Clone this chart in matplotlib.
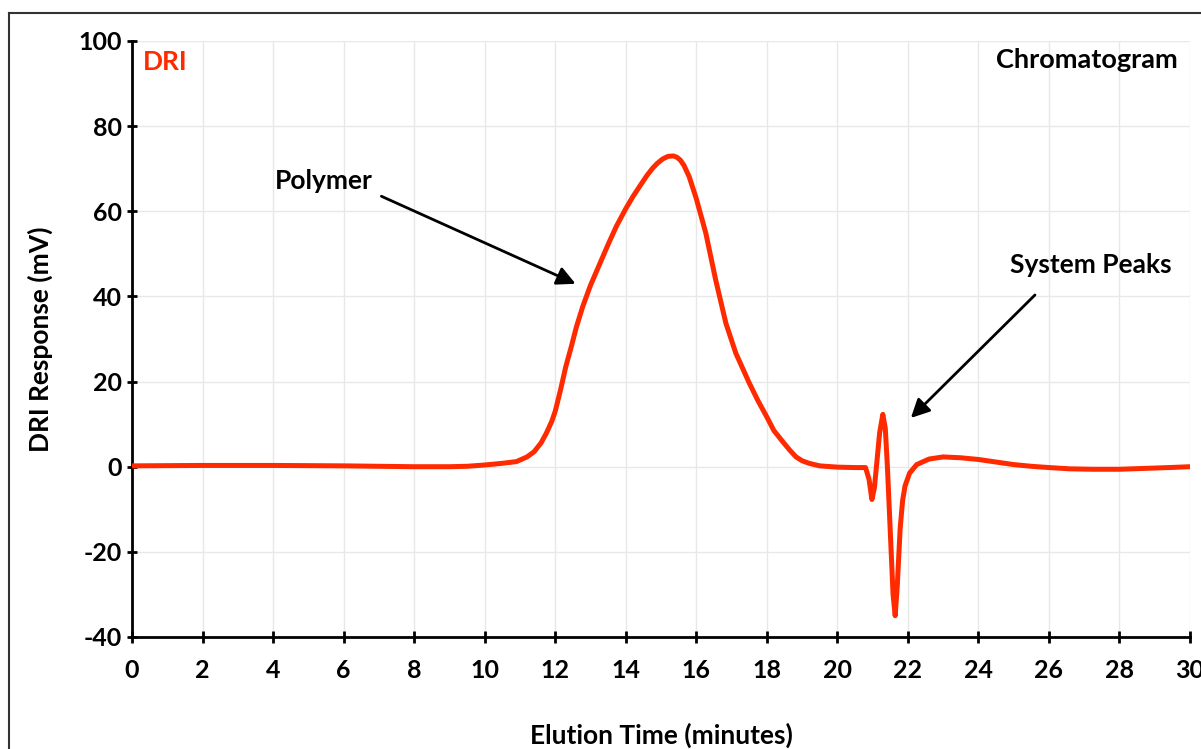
import matplotlib.pyplot as plt
from matplotlib.lines import Line2D

# elution time (minutes) and DRI response (mV)
time_min = [0, 1, 2, 3, 4, 5, 6, 7, 8, 9, 9.5, 10, 10.5, 10.9, 11.2, 11.4,
            11.6, 11.75, 11.9, 12.0, 12.15, 12.3, 12.45, 12.6, 12.78, 13.0,
            13.25, 13.5, 13.73, 14.0, 14.2, 14.39, 14.6, 14.77, 14.9, 15.05,
            15.2, 15.35, 15.45, 15.55, 15.65, 15.8, 16.0, 16.27, 16.55, 16.84,
            17.12, 17.5, 17.75, 18.0, 18.2, 18.45, 18.65, 18.83, 19.0, 19.2,
            19.5, 20.0, 20.5, 20.8, 20.9, 20.98, 21.05, 21.12, 21.2, 21.29,
            21.36, 21.42, 21.5, 21.58, 21.64, 21.7, 21.78, 21.85, 21.92, 22.05,
            22.25, 22.6, 23.0, 23.5, 24.0, 24.5, 25.0, 25.5, 26.0, 26.6, 27.25,
            28.0, 28.7, 29.4, 30.0]
dri_mv = [0.2, 0.25, 0.3, 0.3, 0.3, 0.25, 0.2, 0.1, 0.0, 0.0, 0.1, 0.4, 0.8,
          1.2, 2.3, 3.5, 5.6, 7.9, 10.6, 13.0, 18.0, 23.5, 28.0, 32.8, 37.6,
          42.6, 47.4, 52.2, 56.4, 60.6, 63.4, 65.8, 68.4, 70.2, 71.3, 72.3,
          72.9, 73.0, 72.7, 72.0, 70.8, 68.1, 63.0, 54.9, 43.9, 33.7, 26.7,
          19.7, 15.5, 11.7, 8.5, 5.9, 3.9, 2.3, 1.4, 0.8, 0.2, -0.1, -0.2,
          -0.2, -3.0, -7.7, -5.0, 1.0, 8.0, 12.3, 9.0, 0.0, -15.0, -30.0,
          -35.0, -28.0, -14.7, -8.0, -4.5, -1.5, 0.5, 1.8, 2.3, 2.1, 1.7, 1.1,
          0.5, 0.1, -0.2, -0.5, -0.6, -0.6, -0.4, -0.2, 0.0]

red = '#ff2a00'
plt.rcParams['font.family'] = ['Lato', 'DejaVu Sans']
plt.rcParams['font.weight'] = 'bold'
plt.rcParams['axes.unicode_minus'] = False

fig = plt.figure(figsize=(12.01, 7.49), dpi=100)
ax = fig.add_axes([132/1201, 1-637/749, 1058/1201, 596/749])

# outer frame, cut off on the right and bottom
fig.add_artist(Line2D([9/1201, 9/1201], [0, 1-13/749], color='#333333', lw=1.5))
fig.add_artist(Line2D([9/1201, 1], [1-13/749, 1-13/749], color='#333333', lw=1.5))

ax.plot(time_min, dri_mv, color=red, lw=3.6, solid_joinstyle='round',
        solid_capstyle='round', zorder=3)

ax.set_xlim(0, 30)
ax.set_ylim(-40, 100)
ax.set_xticks(range(0, 31, 2))
ax.set_yticks(range(-40, 101, 20))
ax.grid(True, color='#e8e8e8', lw=1)
for s in ['top', 'right']:
    ax.spines[s].set_visible(False)
for s in ['left', 'bottom']:
    ax.spines[s].set_linewidth(2)
ax.tick_params(axis='x', direction='inout', length=8, width=2, pad=12, labelsize=18)
ax.tick_params(axis='y', direction='inout', length=7, width=2, pad=4, labelsize=18)
for lab in ax.get_xticklabels() + ax.get_yticklabels():
    lab.set_fontweight('bold')

ax.set_xlabel('Elution Time (minutes)', fontsize=19, fontweight='bold', labelpad=29)
ax.set_ylabel('DRI Response (mV)', fontsize=19, fontweight='bold', labelpad=18)

ax.text(0.3, 95, 'DRI', color=red, fontsize=19, fontweight='bold', va='center')
ax.text(29.66, 95.5, 'Chromatogram', fontsize=19.5, fontweight='bold', ha='right', va='center')

ax.annotate('', xy=(12.65, 42.7), xytext=(7.0, 63.8),
            arrowprops=dict(arrowstyle='-|>', mutation_scale=28, lw=2, color='black'))
ax.text(4.05, 67.1, 'Polymer', fontsize=19, fontweight='bold', va='center')
ax.annotate('', xy=(22.03, 11.0), xytext=(25.66, 40.8),
            arrowprops=dict(arrowstyle='-|>', mutation_scale=28, lw=2, color='black'))
ax.text(24.9, 47.3, 'System Peaks', fontsize=19, fontweight='bold', va='center')

fig.savefig('out.png', dpi=100)
